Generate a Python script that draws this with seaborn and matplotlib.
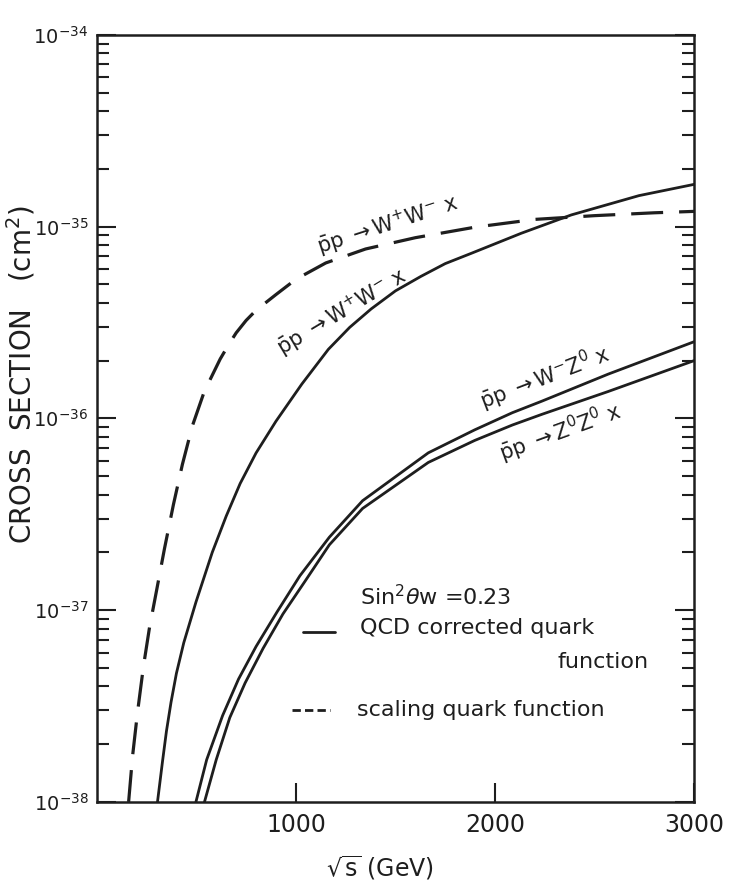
import matplotlib
matplotlib.use("Agg")
import matplotlib.pyplot as plt
import seaborn as sns

# sqrt(s) in GeV and cross sections in cm^2
ww_scaling_x = [160, 180, 205, 235, 265, 300, 340, 385, 430, 480, 540, 620, 660,
                700, 750, 800, 900, 1000, 1150, 1350, 1600, 1900, 2200, 2500,
                2800, 3000]
ww_scaling_y = [1.0e-38, 1.74e-38, 2.95e-38, 5.13e-38, 8.13e-38, 1.26e-37,
                2.09e-37, 3.55e-37, 5.75e-37, 9.12e-37, 1.38e-36, 2.04e-36,
                2.40e-36, 2.79e-36, 3.24e-36, 3.66e-36, 4.42e-36, 5.31e-36,
                6.46e-36, 7.64e-36, 8.75e-36, 9.93e-36, 1.09e-35, 1.14e-35,
                1.18e-35, 1.2e-35]

ww_qcd_x = [305, 330, 350, 373, 400, 437, 498, 580, 650, 720, 800, 900, 1030,
            1163, 1270, 1378, 1500, 1628, 1750, 1879, 2132, 2383, 2723, 3000]
ww_qcd_y = [1.0e-38, 1.62e-38, 2.34e-38, 3.31e-38, 4.68e-38, 6.76e-38, 1.10e-37,
            2.0e-37, 3.09e-37, 4.57e-37, 6.6e-37, 9.66e-37, 1.51e-36, 2.29e-36,
            2.98e-36, 3.72e-36, 4.62e-36, 5.5e-36, 6.41e-36, 7.24e-36, 9.23e-36,
            1.15e-35, 1.45e-35, 1.66e-35]

wz_qcd_x = [498, 552, 632, 712, 800, 905, 1020, 1168, 1335, 1665, 1898, 2087,
            2236, 2568, 3000]
wz_qcd_y = [1.0e-38, 1.66e-38, 2.82e-38, 4.37e-38, 6.46e-38, 9.77e-38, 1.51e-37,
            2.40e-37, 3.72e-37, 6.61e-37, 8.71e-37, 1.07e-36, 1.23e-36, 1.70e-36,
            2.51e-36]

zz_qcd_x = [541, 600, 668, 745, 835, 935, 1045, 1168, 1335, 1665, 1898, 2087,
            2236, 2568, 3000]
zz_qcd_y = [1.0e-38, 1.66e-38, 2.75e-38, 4.17e-38, 6.31e-38, 9.55e-38, 1.41e-37,
            2.19e-37, 3.39e-37, 5.89e-37, 7.67e-37, 9.23e-37, 1.05e-36, 1.38e-36,
            2.0e-36]

x_ticks = [1000, 2000, 3000]
x_tick_labels = ["1000", "2000", "3000"]
y_ticks = [1e-38, 1e-37, 1e-36, 1e-35, 1e-34]
y_tick_labels = ["$10^{-38}$", "$10^{-37}$", "$10^{-36}$", "$10^{-35}$", "$10^{-34}$"]

ink = "#1e1e1e"

sns.set_style("ticks")
plt.rcParams["font.family"] = ["DejaVu Sans"]
plt.rcParams["mathtext.default"] = "regular"

fig = plt.figure(figsize=(7.33, 8.92), dpi=100)
ax = fig.add_axes([0.132, 0.101, 0.815, 0.860])

sns.lineplot(x=ww_scaling_x, y=ww_scaling_y, ax=ax, color=ink, lw=2.3,
             dashes=(10, 5), errorbar=None)
sns.lineplot(x=ww_qcd_x, y=ww_qcd_y, ax=ax, color=ink, lw=2.0, errorbar=None)
sns.lineplot(x=wz_qcd_x, y=wz_qcd_y, ax=ax, color=ink, lw=2.0, errorbar=None)
sns.lineplot(x=zz_qcd_x, y=zz_qcd_y, ax=ax, color=ink, lw=2.0, errorbar=None)

ax.set_yscale("log")
ax.set_xlim(0, 3000)
ax.set_ylim(1e-38, 1e-34)

ax.set_xticks(x_ticks)
ax.set_xticklabels(x_tick_labels)
ax.set_yticks(y_ticks)
ax.set_yticklabels(y_tick_labels)
ax.yaxis.set_minor_locator(matplotlib.ticker.LogLocator(base=10, subs=range(2, 10), numticks=20))
ax.yaxis.set_minor_formatter(matplotlib.ticker.NullFormatter())

ax.tick_params(axis="both", which="major", direction="in", length=14, width=1.5,
               colors=ink, pad=6)
ax.tick_params(axis="x", labelsize=17, top=False, pad=8)
ax.tick_params(axis="y", labelsize=14, which="both", left=True, right=True)
ax.tick_params(axis="y", which="minor", direction="in", length=8.5, width=1.5, colors=ink)

for sp in ax.spines.values():
    sp.set_linewidth(1.8)
    sp.set_color(ink)

ax.set_ylabel("CROSS  SECTION   (cm$^2$)", fontsize=20, color=ink)
ax.yaxis.label.set_va("center")
ax.yaxis.set_label_coords(-0.126, 0.557)
ax.set_xlabel(r"$\sqrt{s}$ (GeV)", fontsize=17, color=ink)
ax.xaxis.label.set_va("center")
ax.xaxis.set_label_coords(0.474, -0.086)

# curve labels
lab = dict(fontsize=15, color=ink, ha="center", va="center",
           rotation_mode="anchor", transform=ax.transAxes)
ax.text(0.486, 0.752, r"$\bar{p}p\ \rightarrow W^{+}W^{-}\ x$", rotation=18, **lab)
ax.text(0.410, 0.638, r"$\bar{p}p\ \rightarrow W^{+}W^{-}\ x$", rotation=31, **lab)
ax.text(0.750, 0.553, r"$\bar{p}p\ \rightarrow W^{-}Z^{0}\ x$", rotation=21, **lab)
ax.text(0.776, 0.482, r"$\bar{p}p\ \rightarrow Z^{0}Z^{0}\ x$", rotation=20, **lab)

# hand-drawn style key
txt = dict(fontsize=16, color=ink, va="center", transform=ax.transAxes)
ax.text(0.44, 0.267, r"Sin$^2\mathit{\theta}$w =0.23", **txt)
ax.text(0.44, 0.227, "QCD corrected quark", **txt)
ax.text(0.923, 0.1825, "function", ha="right", **txt)
ax.text(0.436, 0.12, "scaling quark function", **txt)
ax.plot([0.345, 0.399], [0.2216, 0.2216], color=ink, lw=2, transform=ax.transAxes)
ax.plot([0.327, 0.39], [0.12, 0.12], color=ink, lw=2, dashes=(3, 1.5),
        transform=ax.transAxes)

fig.savefig("out.png", dpi=100)
